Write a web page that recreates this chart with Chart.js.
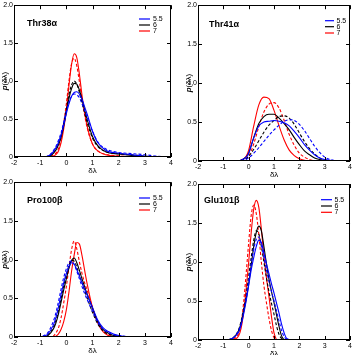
<!DOCTYPE html>
<html><head><meta charset="utf-8">
<script src="https://cdn.jsdelivr.net/npm/chart.js@4"></script>
<style>
html,body{margin:0;padding:0;background:#fff;width:354px;height:355px;overflow:hidden}
canvas{position:absolute}
</style></head>
<body>
<canvas id="c0" width="177" height="178" style="left:0;top:0"></canvas>
<canvas id="c1" width="177" height="178" style="left:177px;top:0"></canvas>
<canvas id="c2" width="177" height="178" style="left:0;top:177px"></canvas>
<canvas id="c3" width="177" height="178" style="left:177px;top:177px"></canvas>
<script>
// ---- data ----
const seriesLabels = ['5.5', '6', '7'];
const xTicks = [-2, -1, 0, 1, 2, 3, 4];
const yTicks = [0, 0.5, 1, 1.5, 2];
const panelNames = ['Thr38\u03b1', 'Thr41\u03b1', 'Pro100\u03b2', 'Glu101\u03b2'];

// Thr38α
const thr38X = [-0.8,-0.6,-0.4,-0.3,-0.2,-0.1,0,0.1,0.2,0.3,0.4,0.5,0.6,0.7,0.8,1.0,1.2,1.5,2.0,2.5,3.0,3.5,4.0];
const thr38Blue     = [0,0.03,0.12,0.19,0.29,0.42,0.57,0.70,0.80,0.85,0.86,0.83,0.76,0.66,0.56,0.34,0.19,0.09,0.05,0.03,0.01,0.005,null];
const thr38BlueDash = [0,0.04,0.14,0.22,0.32,0.46,0.60,0.72,0.80,0.83,0.82,0.78,0.70,0.61,0.52,0.34,0.20,0.11,0.06,0.045,0.03,0.01,0];
const thr38Black     = [0,0.02,0.09,0.16,0.26,0.41,0.59,0.77,0.90,0.97,0.96,0.88,0.76,0.62,0.49,0.27,0.15,0.07,0.04,0.02,0.01,0,null];
const thr38BlackDash = [0,0.02,0.10,0.18,0.29,0.45,0.63,0.82,0.95,1.00,0.96,0.85,0.71,0.58,0.45,0.25,0.14,0.07,0.045,0.03,0.01,0,null];
const thr38Red     = [null,0,0.03,0.08,0.19,0.37,0.62,0.94,1.22,1.36,1.31,1.09,0.81,0.58,0.40,0.17,0.08,0.03,0.01,0,null,null,null];
const thr38RedDash = [null,0.005,0.05,0.11,0.24,0.45,0.70,1.00,1.23,1.30,1.20,0.99,0.75,0.55,0.38,0.17,0.08,0.035,0.015,0.005,0,null,null];

// Thr41α
const thr41X = [-0.5,-0.3,-0.1,0,0.2,0.4,0.6,0.8,1.0,1.2,1.4,1.6,1.8,2.0,2.2,2.4,2.6,2.8,3.0,3.2,3.5];
const thr41Blue     = [0,0.01,0.05,0.10,0.30,0.45,0.50,0.51,0.52,0.51,0.49,0.45,0.38,0.30,0.21,0.14,0.08,0.04,0.02,0.01,0];
const thr41BlueDash = [0,0.005,0.02,0.04,0.10,0.17,0.25,0.33,0.40,0.46,0.51,0.53,0.52,0.47,0.39,0.29,0.19,0.11,0.05,0.02,0];
const thr41Black     = [0,0.01,0.05,0.10,0.30,0.48,0.57,0.60,0.60,0.55,0.48,0.40,0.30,0.21,0.13,0.08,0.04,0.02,0.01,0,null];
const thr41BlackDash = [0,0.01,0.03,0.06,0.15,0.26,0.37,0.46,0.52,0.57,0.58,0.55,0.47,0.36,0.25,0.16,0.09,0.04,0.015,0.005,0];
const thr41Red     = [0,0.01,0.06,0.14,0.45,0.72,0.82,0.80,0.65,0.45,0.27,0.14,0.07,0.03,0.01,0,null,null,null,null,null];
const thr41RedDash = [0,0.01,0.03,0.06,0.22,0.44,0.63,0.73,0.75,0.68,0.52,0.34,0.20,0.10,0.05,0.02,0,null,null,null,null];

// Pro100β
const pro100X = [-0.9,-0.7,-0.5,-0.4,-0.3,-0.2,-0.1,0,0.1,0.2,0.3,0.4,0.5,0.6,0.7,0.8,1.0,1.2,1.4,1.6,1.8,2.0,2.4];
const pro100Blue     = [0,0.04,0.15,0.25,0.39,0.55,0.70,0.82,0.91,0.96,0.94,0.87,0.79,0.70,0.62,0.54,0.38,0.22,0.12,0.07,0.04,0.02,0];
const pro100BlueDash = [0.01,0.06,0.20,0.31,0.46,0.62,0.77,0.88,0.96,0.98,0.94,0.85,0.75,0.65,0.56,0.48,0.33,0.19,0.10,0.06,0.03,0.02,0];
const pro100Black     = [0,0.02,0.10,0.18,0.30,0.45,0.61,0.75,0.89,0.99,1.02,0.96,0.86,0.75,0.65,0.55,0.37,0.20,0.10,0.05,0.02,0.01,0];
const pro100BlackDash = [0,0.03,0.12,0.21,0.34,0.50,0.66,0.80,0.92,0.99,0.98,0.90,0.80,0.70,0.60,0.50,0.32,0.17,0.08,0.04,0.02,0.01,null];
const pro100Red     = [null,null,0,0.01,0.04,0.10,0.20,0.35,0.58,0.85,1.06,1.22,1.20,1.05,0.86,0.68,0.38,0.18,0.07,0.02,0,null,null];
const pro100RedDash = [null,null,0.01,0.05,0.12,0.25,0.44,0.65,0.90,1.13,1.24,1.14,0.97,0.82,0.70,0.60,0.38,0.20,0.08,0.03,0.01,0,null];

// Glu101β
const glu101X = [-0.8,-0.6,-0.4,-0.3,-0.2,-0.1,0,0.1,0.2,0.3,0.4,0.5,0.6,0.7,0.8,0.9,1.0,1.1,1.2,1.3,1.4,1.5,1.7];
const glu101Blue     = [0,0.03,0.10,0.19,0.33,0.50,0.70,0.90,1.06,1.20,1.28,1.25,1.12,0.98,0.85,0.72,0.60,0.47,0.34,0.20,0.09,0.02,0];
const glu101BlueDash = [0,0.03,0.12,0.21,0.36,0.54,0.76,0.98,1.16,1.29,1.32,1.22,1.06,0.90,0.75,0.62,0.50,0.37,0.24,0.12,0.04,0.01,0];
const glu101Black     = [0,0.03,0.12,0.22,0.36,0.52,0.72,0.96,1.20,1.38,1.46,1.40,1.20,0.98,0.78,0.62,0.48,0.32,0.17,0.05,0,null,null];
const glu101BlackDash = [0,0.03,0.13,0.24,0.40,0.58,0.82,1.06,1.28,1.40,1.36,1.20,1.00,0.80,0.62,0.47,0.33,0.18,0.07,0.02,0,null,null];
const glu101Red     = [null,0,0.05,0.15,0.35,0.65,1.00,1.38,1.68,1.79,1.70,1.42,1.08,0.80,0.56,0.30,0.09,0,null,null,null,null,null];
const glu101RedDash = [null,0.01,0.08,0.20,0.48,0.85,1.25,1.60,1.73,1.62,1.35,1.00,0.70,0.48,0.28,0.12,0.03,0,null,null,null,null,null];

// ---- layout / style (not data) ----
const colors = ['#0000ff', '#000000', '#ff0000'];
const panels = [
  {id:'c0', name:panelNames[0], x:thr38X, ys:[[thr38Blue,thr38BlueDash],[thr38Black,thr38BlackDash],[thr38Red,thr38RedDash]],
   L:14, T:3, R:6, B:21, lab:[27,24], leg:{x0:139,x1:150,tx:153,ys:[19,25,31]}},
  {id:'c1', name:panelNames[1], x:thr41X, ys:[[thr41Blue,thr41BlueDash],[thr41Black,thr41BlackDash],[thr41Red,thr41RedDash]],
   L:21, T:5, R:3, B:17, lab:[32,24.5], leg:{x0:148,x1:157,tx:159.5,ys:[20.7,26.7,33]}},
  {id:'c2', name:panelNames[2], x:pro100X, ys:[[pro100Blue,pro100BlueDash],[pro100Black,pro100BlackDash],[pro100Red,pro100RedDash]],
   L:14, T:5, R:6, B:18, lab:[27,24], leg:{x0:139,x1:150,tx:153,ys:[21,27,33]}},
  {id:'c3', name:panelNames[3], x:glu101X, ys:[[glu101Blue,glu101BlueDash],[glu101Black,glu101BlackDash],[glu101Red,glu101RedDash]],
   L:21, T:7, R:3, B:15, lab:[27,24], leg:{x0:144,x1:155,tx:157.5,ys:[22.7,29,35.3]}}
];
const FONT = '"Liberation Sans", Arial, sans-serif';

const framePlugin = {
  id:'frame',
  afterDatasetsDraw(chart, args, opts){
    const ctx = chart.ctx, a = chart.chartArea, p = opts.panel;
    const xs = chart.scales.x, ys = chart.scales.y;
    ctx.save();
    ctx.strokeStyle = '#000'; ctx.lineWidth = 1;
    ctx.strokeRect(Math.round(a.left)+0.5, Math.round(a.top)+0.5, Math.round(a.right-a.left)-1, Math.round(a.bottom-a.top)-1);
    ctx.beginPath();
    xTicks.forEach(v=>{
      const px = Math.round(xs.getPixelForValue(v))+0.5;
      ctx.moveTo(px, a.bottom); ctx.lineTo(px, a.bottom-4);
      ctx.moveTo(px, a.top); ctx.lineTo(px, a.top+4);
    });
    yTicks.forEach(v=>{
      const py = Math.round(ys.getPixelForValue(v))+0.5;
      ctx.moveTo(a.left, py); ctx.lineTo(a.left+4, py);
      ctx.moveTo(a.right, py); ctx.lineTo(a.right-4, py);
    });
    ctx.stroke();
    // panel label
    ctx.fillStyle = '#000';
    ctx.font = 'bold 9px ' + FONT;
    ctx.textBaseline = 'middle'; ctx.textAlign = 'left';
    ctx.fillText(p.name, p.lab[0], p.lab[1]);
    // legend
    ctx.font = '7px ' + FONT;
    seriesLabels.forEach((s,i)=>{
      ctx.strokeStyle = colors[i]; ctx.lineWidth = 1.2;
      ctx.beginPath(); ctx.moveTo(p.leg.x0, p.leg.ys[i]); ctx.lineTo(p.leg.x1, p.leg.ys[i]); ctx.stroke();
      ctx.fillText(s, p.leg.tx, p.leg.ys[i]);
    });
    // x title
    ctx.font = '8px ' + FONT;
    ctx.textAlign = 'center';
    ctx.fillText('\u03b4\u03bb', (a.left+a.right)/2, a.bottom + 13.5);
    // y title
    ctx.translate(a.left - 9.5, (a.top+a.bottom)/2);
    ctx.rotate(-Math.PI/2);
    ctx.font = 'bold italic 8px ' + FONT;
    const w1 = ctx.measureText('p').width;
    ctx.font = '8px ' + FONT;
    const w2 = ctx.measureText('(\u03b4\u03bb)').width;
    ctx.textAlign = 'left';
    ctx.font = 'bold italic 8px ' + FONT;
    ctx.fillText('p', -(w1+w2)/2, 0);
    ctx.font = '8px ' + FONT;
    ctx.fillText('(\u03b4\u03bb)', -(w1+w2)/2 + w1, 0);
    ctx.restore();
  }
};

panels.forEach(p=>{
  const datasets = [];
  p.ys.forEach((pair,ci)=>{
    pair.forEach((arr,k)=>{
      datasets.push({
        label: seriesLabels[ci] + (k ? ' dashed' : ''),
        data: p.x.map((x,i)=>({x:x, y:arr[i]})),
        borderColor: colors[ci],
        borderDash: k ? [3,2] : [],
        borderWidth: 1.1,
        fill:false, pointRadius:0, spanGaps:false,
        cubicInterpolationMode:'monotone'
      });
    });
  });
  const tickFont = {family: FONT, size: 7};
  new Chart(document.getElementById(p.id), {
    type:'line',
    data:{datasets},
    options:{
      responsive:false, animation:false, devicePixelRatio:1,
      layout:{padding:{left:0, top:p.T, right:p.R, bottom:0}},
      plugins:{legend:{display:false}, tooltip:{enabled:false}, frame:{panel:p}},
      scales:{
        x:{type:'linear', min:-2, max:4,
           ticks:{stepSize:1, autoSkip:false, maxRotation:0, color:'#000', font:tickFont, padding:2},
           grid:{display:false, drawTicks:false}, border:{display:false},
           afterFit(s){ s.height = p.B; }},
        y:{type:'linear', min:0, max:2,
           ticks:{stepSize:0.5, autoSkip:false, color:'#000', font:tickFont, padding:1},
           grid:{display:false, drawTicks:false}, border:{display:false},
           afterFit(s){ s.width = p.L; }}
      }
    },
    plugins:[framePlugin]
  });
});
</script>
</body></html>
